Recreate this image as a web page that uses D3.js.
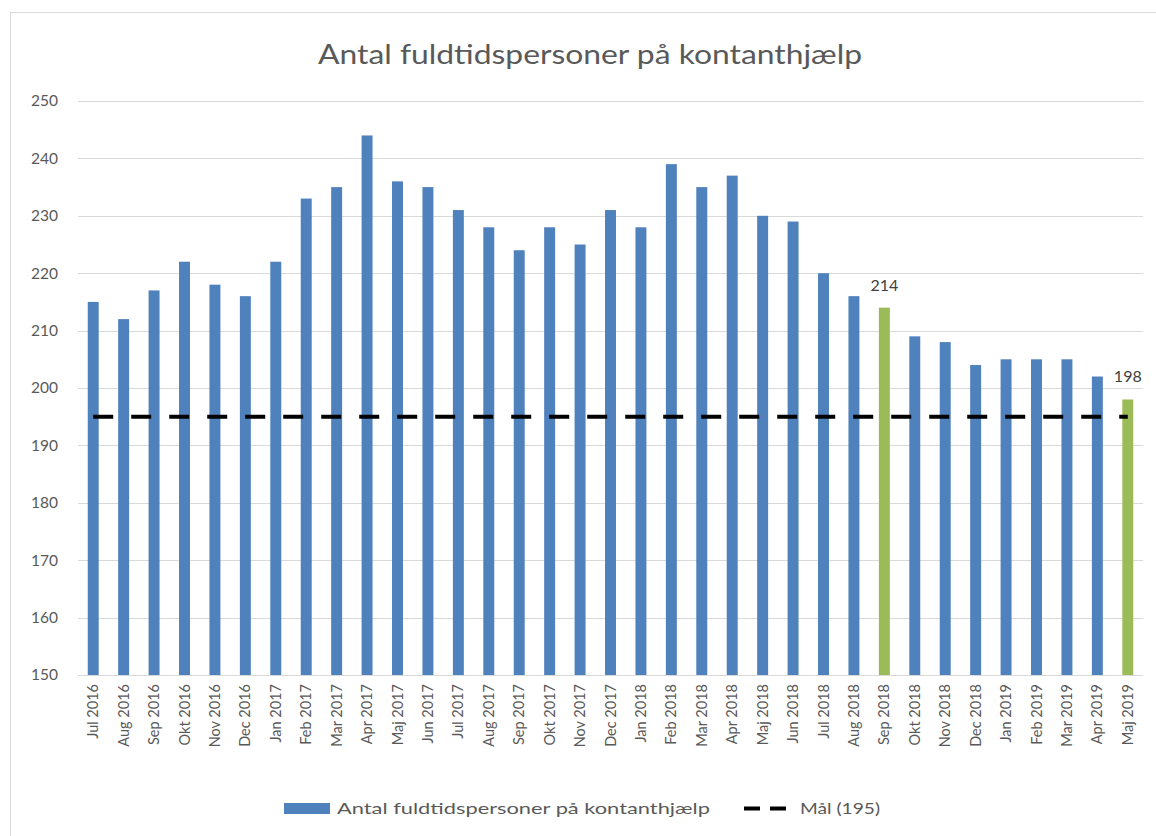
<!DOCTYPE html>
<html><head><meta charset="utf-8">
<script src="https://cdn.jsdelivr.net/npm/d3@7"></script>
<style>body{margin:0;background:#fff}svg{display:block}text{font-family:Lato,"Open Sans",sans-serif}</style>
</head><body><svg id="c" width="1156" height="836"></svg>
<script>
const categories=["Jul 2016","Aug 2016","Sep 2016","Okt 2016","Nov 2016","Dec 2016","Jan 2017","Feb 2017","Mar 2017","Apr 2017","Maj 2017","Jun 2017","Jul 2017","Aug 2017","Sep 2017","Okt 2017","Nov 2017","Dec 2017","Jan 2018","Feb 2018","Mar 2018","Apr 2018","Maj 2018","Jun 2018","Jul 2018","Aug 2018","Sep 2018","Okt 2018","Nov 2018","Dec 2018","Jan 2019","Feb 2019","Mar 2019","Apr 2019","Maj 2019"];
const values=[215,212,217,222,218,216,222,233,235,244,236,235,231,228,224,228,225,231,228,239,235,237,230,229,220,216,214,209,208,204,205,205,205,202,198];
const highlighted=["Sep 2018","Maj 2019"];
const goal=195;
const yTicks=[150,160,170,180,190,200,210,220,230,240,250];
const title="Antal fuldtidspersoner på kontanthjælp";
const seriesName="Antal fuldtidspersoner på kontanthjælp";
const goalName="Mål (195)";

const svg=d3.select("#c");
svg.append("rect").attr("x",10.5).attr("y",12.5).attr("width",1150).attr("height",830).attr("fill","#fff").attr("stroke","#d9d9d9");
const L=78,R=1143,T=101,B=675;
const x=d3.scaleBand().domain(categories).range([L,R]).paddingInner(0.64).paddingOuter(0.32);
const y=d3.scaleLinear().domain([150,250]).range([B,T]);

svg.append("text").attr("x",318).attr("y",64).attr("font-size",27).attr("fill","#595959")
 .attr("textLength",544).attr("lengthAdjust","spacingAndGlyphs").text(title);

const g=svg.append("g");
g.selectAll("line.grid").data(yTicks.slice(1)).join("line").attr("class","grid")
 .attr("x1",L).attr("x2",R).attr("y1",d=>Math.round(y(d))+0.5).attr("y2",d=>Math.round(y(d))+0.5).attr("stroke","#d9d9d9");
const ya=svg.append("g").attr("transform",`translate(${L},0)`).call(d3.axisLeft(y).tickValues(yTicks).tickSize(0).tickPadding(20));
ya.select(".domain").remove();
ya.selectAll("text").attr("font-size",15.5).attr("fill","#595959").style("font-family","Lato,sans-serif");

g.selectAll("rect.bar").data(values).join("rect").attr("class","bar")
 .attr("x",(d,i)=>x(categories[i])).attr("width",x.bandwidth())
 .attr("y",d=>y(d)).attr("height",d=>B-y(d))
 .attr("fill",(d,i)=>highlighted.includes(categories[i])?"#9bbb59":"#4f81bd");

svg.append("line").attr("x1",L).attr("x2",R).attr("y1",B+0.5).attr("y2",B+0.5).attr("stroke","#d9d9d9");

const xa=svg.append("g").attr("transform",`translate(0,${B})`).call(d3.axisBottom(x).tickSize(0).tickPadding(0));
xa.select(".domain").remove();
xa.selectAll("text").attr("transform","rotate(-90)").attr("x",-9).attr("y",0).attr("dy","0.35em").attr("text-anchor","end")
 .attr("font-size",14.5).attr("fill","#595959").style("font-family","Lato,sans-serif");

const line=d3.line().x(d=>x(d)+x.bandwidth()/2).y(()=>y(goal));
svg.append("path").datum([categories[0],categories[categories.length-1]]).attr("d",line)
 .attr("stroke","#000").attr("stroke-width",4).attr("stroke-dasharray","20,18").attr("fill","none");

highlighted.forEach(c=>{const i=categories.indexOf(c);
 svg.append("text").attr("x",x(c)+x.bandwidth()/2).attr("y",y(values[i])-17).attr("text-anchor","middle")
 .attr("font-size",16).attr("fill","#404040").text(values[i]);});

const lg=svg.append("g");
lg.append("rect").attr("x",284).attr("y",803).attr("width",46).attr("height",11).attr("fill","#4f81bd");
lg.append("text").attr("x",337).attr("y",814).attr("font-size",16).attr("fill","#595959")
 .attr("textLength",373).attr("lengthAdjust","spacingAndGlyphs").text(seriesName);
lg.append("line").attr("x1",744).attr("x2",792).attr("y1",808.5).attr("y2",808.5).attr("stroke","#000").attr("stroke-width",4).attr("stroke-dasharray","16,10");
lg.append("text").attr("x",800).attr("y",814).attr("font-size",16).attr("fill","#595959")
 .attr("textLength",80).attr("lengthAdjust","spacingAndGlyphs").text(goalName);
</script></body></html>
